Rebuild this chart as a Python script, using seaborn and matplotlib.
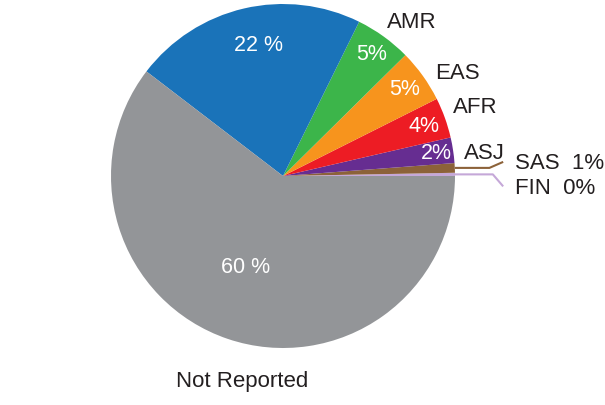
import numpy as np
import matplotlib
matplotlib.use("Agg")
import matplotlib.pyplot as plt
import seaborn as sns

sns.set_theme(style="white")
plt.rcParams['font.family'] = ['Liberation Sans', 'DejaVu Sans']

# data (counter-clockwise from 3 o'clock)
groups = ['FIN', 'SAS', 'ASJ', 'AFR', 'EAS', 'AMR', 'NFE', 'Not Reported']
shares = [0.3, 0.9, 2.4, 3.8, 5.0, 5.3, 21.9, 60.4]
pct_text = ['0%', '1%', '2%', '4%', '5%', '5%', '22 %', '60 %']
colors = ['#c5a8d8', '#8c6239', '#662d91', '#ed1c24', '#f7941d',
          '#3cb54a', '#1a73b9', '#939598']

# layout per slice
inner_r = [None, None, 0.90, 0.87, 0.87, 0.88, 0.78, 0.57]
inner_dang = [0, 0, 0, 0, 0, 0, -2.5, -4]
outer_r = [None, None, 1.18, 1.19, 1.18, 1.17, None, 1.21]
outer_dang = [0, 0, -2, 0, -5, -4, 0, 7.5]

W, H = 605, 406
cx, cy, R = 283, H - 177, 172

fig = plt.figure(figsize=(W / 100, H / 100), dpi=100)
ax = fig.add_axes([0, 0, 1, 1])
wedges, _ = ax.pie(shares, colors=colors, startangle=0, counterclock=True,
                   center=(cx, cy), radius=R, normalize=True,
                   wedgeprops=dict(linewidth=0))
ax.set_xlim(0, W)
ax.set_ylim(0, H)
ax.set_aspect('equal')
ax.axis('off')

fs_in, fs_out = 15.5, 16
for i, w in enumerate(wedges):
    mid = (w.theta1 + w.theta2) / 2
    if inner_r[i] is not None:
        a = np.deg2rad(mid + inner_dang[i])
        ax.text(cx + inner_r[i] * R * np.cos(a), cy + inner_r[i] * R * np.sin(a),
                pct_text[i], color='white', fontsize=fs_in, ha='center', va='center')
    if outer_r[i] is not None:
        a = np.deg2rad(mid + outer_dang[i])
        ax.text(cx + outer_r[i] * R * np.cos(a), cy + outer_r[i] * R * np.sin(a),
                groups[i], color='#231f20', fontsize=fs_out, ha='center', va='center')

# leader lines for the two tiny slices
for i, sgn, elbow, rise in [(1, 1, 1.20, 6), (0, -1, 1.22, 12)]:
    w = wedges[i]
    mid = np.deg2rad((w.theta1 + w.theta2) / 2)
    x0, y0 = cx + R * np.cos(mid), cy + R * np.sin(mid)
    xe = cx + elbow * R
    x1, y1 = cx + 1.28 * R, y0 + sgn * rise
    ax.plot([x0, xe, x1], [y0, y0, y1], color=colors[i], lw=1.5,
            solid_capstyle='butt')
    ax.text(x1 + 12, y1 - 1, f'{groups[i]}  {pct_text[i]}',
            color='#231f20', fontsize=fs_out, ha='left', va='center')

fig.savefig('out.png', dpi=100)
